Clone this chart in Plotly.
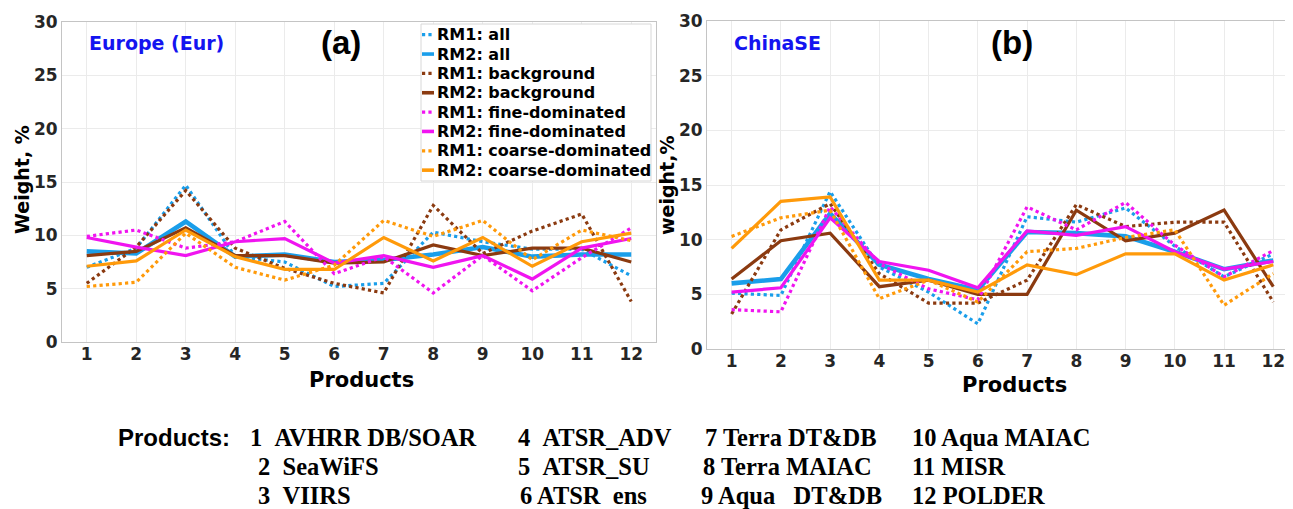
import plotly.graph_objects as go

# page body has an 8px margin; figure is sized/offset so it lands on the reference grid
OFF = 8
W, H = 1293 - OFF, 509 - OFF

products = list(range(1, 13))
y_ticks = [0, 5, 10, 15, 20, 25, 30]

# Europe (Eur) - panel (a)
eur_rm1_all = [7.0, 8.8, 14.7, 8.0, 7.5, 5.2, 5.5, 10.3, 9.4, 8.7, 8.7, 6.2]
eur_rm2_all = [8.5, 8.3, 11.3, 8.0, 8.2, 7.5, 7.7, 8.2, 8.9, 8.0, 8.2, 8.2]
eur_rm1_bg = [5.5, 8.9, 14.2, 8.8, 6.9, 5.5, 4.6, 12.8, 8.3, 10.4, 12.0, 3.8]
eur_rm2_bg = [8.1, 8.5, 10.7, 8.1, 8.1, 7.4, 7.5, 9.1, 8.1, 8.8, 8.8, 7.5]
eur_rm1_fine = [9.9, 10.5, 8.8, 9.4, 11.3, 6.4, 8.0, 4.6, 8.1, 4.8, 7.9, 10.7]
eur_rm2_fine = [9.8, 8.9, 8.1, 9.4, 9.7, 7.4, 8.1, 7.0, 8.1, 5.9, 8.8, 9.7]
eur_rm1_coarse = [5.2, 5.6, 10.2, 7.0, 5.8, 7.2, 11.4, 9.9, 11.4, 7.7, 10.5, 9.5]
eur_rm2_coarse = [7.1, 7.6, 10.5, 8.0, 6.8, 6.8, 9.8, 7.6, 9.8, 7.1, 9.4, 10.2]

# ChinaSE - panel (b)
chn_rm1_all = [5.1, 4.9, 14.4, 7.5, 5.2, 2.3, 12.1, 11.6, 12.9, 9.4, 6.6, 8.7]
chn_rm2_all = [6.0, 6.4, 12.4, 7.7, 6.4, 5.4, 10.7, 10.6, 10.3, 8.9, 7.3, 8.1]
chn_rm1_bg = [3.2, 10.9, 13.3, 6.9, 4.2, 4.2, 6.3, 13.2, 11.2, 11.6, 11.6, 4.3]
chn_rm2_bg = [6.4, 9.9, 10.6, 5.7, 6.3, 5.0, 5.0, 12.7, 9.9, 10.6, 12.7, 5.7]
chn_rm1_fine = [3.6, 3.4, 13.0, 7.8, 5.5, 4.5, 13.0, 10.9, 13.4, 9.5, 6.6, 9.0]
chn_rm2_fine = [5.2, 5.6, 12.0, 8.0, 7.2, 5.6, 10.8, 10.4, 11.2, 8.9, 7.3, 8.0]
chn_rm1_coarse = [10.3, 12.0, 12.7, 4.6, 6.3, 4.3, 8.9, 9.2, 10.2, 10.9, 4.0, 6.9]
chn_rm2_coarse = [9.2, 13.5, 13.9, 6.3, 6.3, 5.2, 7.7, 6.8, 8.7, 8.7, 6.3, 7.7]

series_names = ["RM1: all", "RM2: all", "RM1: background", "RM2: background",
                "RM1: fine-dominated", "RM2: fine-dominated",
                "RM1: coarse-dominated", "RM2: coarse-dominated"]

NB = "\u00a0"
product_rows = [
    ["1" + NB * 2 + "AVHRR DB/SOAR", "4" + NB * 2 + "ATSR_ADV", "7 Terra DT&DB", "10 Aqua MAIAC"],
    ["2" + NB * 2 + "SeaWiFS", "5" + NB * 2 + "ATSR_SU", "8 Terra MAIAC", "11 MISR"],
    ["3" + NB * 2 + "VIIRS", "6 ATSR" + NB * 2 + "ens", "9 Aqua" + NB * 3 + "DT&DB", "12 POLDER"],
]

BLUE = "#1A9EEA"
BROWN = "#8B3A10"
MAGENTA = "#F014F0"
ORANGE = "#FF9A0A"
colors = [BLUE, BLUE, BROWN, BROWN, MAGENTA, MAGENTA, ORANGE, ORANGE]
dashes = ["dot", "solid"] * 4
widths = [3.2, 4.6, 3.2, 3.2, 3.2, 3.2, 3.2, 3.2]

eur = [eur_rm1_all, eur_rm2_all, eur_rm1_bg, eur_rm2_bg,
       eur_rm1_fine, eur_rm2_fine, eur_rm1_coarse, eur_rm2_coarse]
chn = [chn_rm1_all, chn_rm2_all, chn_rm1_bg, chn_rm2_bg,
       chn_rm1_fine, chn_rm2_fine, chn_rm1_coarse, chn_rm2_coarse]

fig = go.Figure()
for i, (name, vals) in enumerate(zip(series_names, eur)):
    fig.add_trace(go.Scatter(x=products, y=vals, mode="lines", name=name,
                             line=dict(color=colors[i], dash=dashes[i], width=widths[i]),
                             xaxis="x", yaxis="y", showlegend=False))
for i, (name, vals) in enumerate(zip(series_names, chn)):
    fig.add_trace(go.Scatter(x=products, y=vals, mode="lines", name=name,
                             line=dict(color=colors[i], dash=dashes[i], width=widths[i]),
                             xaxis="x2", yaxis="y2", showlegend=False))

def px(x):
    return (x - OFF) / W

def py(y):
    return 1 - (y - OFF) / H

tickfont = dict(family="DejaVu Sans", size=17, color="#262626", weight="bold")
GRID = "#EBEBEB"
LINE = "#C4C4C4"

axis_common = dict(showgrid=True, gridcolor=GRID, gridwidth=1, zeroline=False,
                   showline=True, linecolor=LINE, linewidth=1, ticks="",
                   tickfont=tickfont, automargin=False)

fig.update_layout(
    template="none",
    width=W, height=H,
    margin=dict(l=0, r=0, t=0, b=0, pad=0, autoexpand=False),
    paper_bgcolor="white", plot_bgcolor="white",
    xaxis=dict(domain=[px(62), px(656)], range=[0.5, 12.5], tickvals=products,
               anchor="y", mirror=True, ticklabelstandoff=-3, **axis_common),
    yaxis=dict(domain=[py(342), py(22)], range=[0, 30], tickvals=y_ticks,
               anchor="x", mirror=True, **axis_common),
    xaxis2=dict(domain=[px(707), 1.0], range=[0.5, 12.4], tickvals=products,
                anchor="y2", mirror=True, ticklabelstandoff=-3, **axis_common),
    yaxis2=dict(domain=[py(349), py(21)], range=[0, 30], tickvals=y_ticks,
                anchor="x2", mirror=False, **axis_common),
    showlegend=False,
)

ann = []
shapes = []

def add(text, x, y, size, family="DejaVu Sans", color="black", xanchor="center",
        textangle=0):
    ann.append(dict(text=text, x=px(x), y=py(y), xref="paper", yref="paper",
                    xanchor=xanchor, yanchor="middle", showarrow=False,
                    textangle=textangle,
                    font=dict(family=family, size=size, color=color, weight="bold")))

# legend (key inside panel a)
LEG_L, LEG_T, LEG_R, LEG_B = 421, 24, 651, 181
shapes.append(dict(type="rect", xref="paper", yref="paper",
                   x0=px(LEG_L), x1=px(LEG_R), y0=py(LEG_B), y1=py(LEG_T),
                   fillcolor="white", line=dict(color="#D8D8D8", width=1), layer="above"))
for i, name in enumerate(series_names):
    yc = 34.7 + i * 19.35
    shapes.append(dict(type="line", xref="paper", yref="paper",
                       x0=px(422), x1=px(434), y0=py(yc), y1=py(yc),
                       line=dict(color=colors[i], dash=dashes[i],
                                 width=3.2 if dashes[i] == "dot" else 3.6),
                       layer="above"))
    add(name, 435, yc, 16, xanchor="left")

add("Europe (Eur)", 87, 43, 19, color="#1414F0", xanchor="left")
add("ChinaSE", 732, 43, 19, color="#1414F0", xanchor="left")
add("(a)", 341, 43, 33, family="Liberation Sans")
add("(b)", 1012, 43, 33, family="Liberation Sans")
add("Weight, %", 22, 180, 19, textangle=-90)
add("weight,%", 667, 185, 19, textangle=-90)
add("Products", 361, 380, 21)
add("Products", 1014, 385, 21)

add("Products:", 116, 437, 24, family="Liberation Sans", xanchor="left")
col_x = [[248, 516, 703, 910], [256, 516, 701, 910], [256, 518, 699, 910]]
row_y = [437, 466, 495]
for r, row in enumerate(product_rows):
    for c, txt in enumerate(row):
        add(txt, col_x[r][c], row_y[r], 24.5, family="Liberation Serif", xanchor="left")

fig.update_layout(annotations=ann, shapes=shapes)
fig.write_html("out.html")
